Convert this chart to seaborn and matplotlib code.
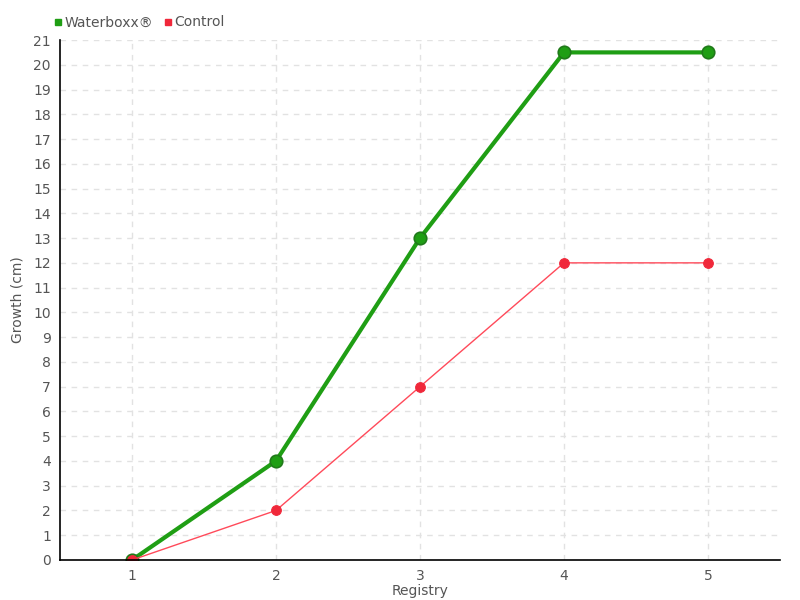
import matplotlib
matplotlib.use("Agg")
import matplotlib.pyplot as plt
from matplotlib.lines import Line2D
import seaborn as sns
import pandas as pd

# data
registry = [1, 2, 3, 4, 5]
waterboxx = [0, 4, 13, 20.5, 20.5]
control = [0, 2, 7, 12, 12]
series_names = ["Waterboxx®", "Control"]

df = pd.DataFrame({
    "Registry": registry * 2,
    "Growth": waterboxx + control,
    "Series": [series_names[0]] * len(registry) + [series_names[1]] * len(registry),
})

sns.set_style("white")
plt.rcParams["font.family"] = ["DejaVu Sans"]

fig = plt.figure(figsize=(8, 6), dpi=100)
ax = fig.add_axes([0.075, 0.0667, 0.9, 0.8666])

# grid
ax.set_axisbelow(True)
ax.grid(True, color="#e2e2e2", linestyle=(0, (4, 4)), linewidth=1)

green = "#1f9e14"
red = "#f0283a"

sns.lineplot(data=df[df.Series == series_names[0]], x="Registry", y="Growth",
             color=green, linewidth=3, marker="o", markersize=9,
             markeredgecolor="#207a1a", markeredgewidth=1.2, ax=ax, legend=False)
sns.lineplot(data=df[df.Series == series_names[1]], x="Registry", y="Growth",
             color="#ff4a5a", linewidth=1, marker="o", markersize=7,
             markerfacecolor=red, markeredgecolor=red, ax=ax, legend=False)

ax.set_xlim(0.5, 5.5)
ax.set_ylim(0, 21)
ax.set_xticks(registry)
ax.set_yticks(range(0, 22))
ax.tick_params(axis="both", colors="#555555", labelsize=10, length=3, width=1)
ax.tick_params(axis="both", color="#aaaaaa")
for s in ["top", "right"]:
    ax.spines[s].set_visible(False)
for s in ["left", "bottom"]:
    ax.spines[s].set_color("black")
    ax.spines[s].set_linewidth(1.2)

ax.set_xlabel("Registry", color="#555555", fontsize=10, labelpad=1)
ax.set_ylabel("Growth (cm)", color="#555555", fontsize=10, labelpad=6)

# legend
handles = [Line2D([], [], marker="s", linestyle="", color=green, markersize=5),
           Line2D([], [], marker="s", linestyle="", color=red, markersize=5)]
fig.legend(handles, series_names, loc="upper left", bbox_to_anchor=(0.05, 0.995),
           ncol=2, frameon=False, fontsize=10, handletextpad=0.1,
           columnspacing=0.6, labelcolor="#555555", handlelength=0.8)

fig.savefig("out.png", dpi=100)
